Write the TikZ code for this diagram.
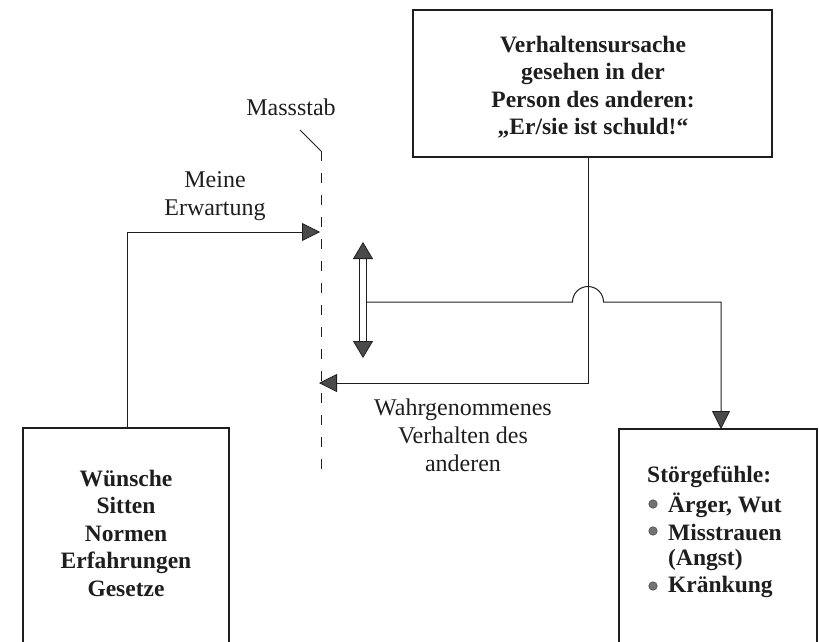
\documentclass[tikz,border=0pt]{standalone}
\usepackage{fontspec}
\setmainfont{Liberation Serif}
\usetikzlibrary{arrows.meta}
\definecolor{ink}{HTML}{1E1E1E}
\definecolor{headfill}{HTML}{4A4A4A}
\tikzset{
  box/.style={draw=ink, line width=1.1pt, inner sep=0pt},
  conn/.style={draw=ink, line width=1pt},
  tip/.style={-{Triangle[length=18pt,width=18pt,fill=headfill,line width=0.8pt]}},
  bt/.style={font=\fontsize{23.5}{27.5}\selectfont\bfseries, text=ink, align=center, inner sep=0pt},
  rt/.style={font=\fontsize{24}{28}\selectfont, text=ink, align=center, inner sep=0pt},
  bul/.style={circle, fill=black!55, draw=black!75, line width=0.5pt, minimum size=8.5pt, inner sep=0pt},
}
\begin{document}
\begin{tikzpicture}[x=1pt,y=-1pt]
\useasboundingbox (0,0) rectangle (819,642);
% boxes
\node[box, minimum width=359pt, minimum height=147pt] (topbox) at (592.5,83.5) {};
\node[box, minimum width=206pt, minimum height=222pt] (leftbox) at (126,539) {};
\node[box, minimum width=198pt, minimum height=221pt] (rightbox) at (718,539.5) {};
\coordinate (topbot) at (588,157);
\coordinate (lefttop) at (127,428);
\coordinate (righttop) at (721,429);
% texts
\node[bt] (ttxt) at (593,87) {Verhaltensursache\\gesehen in der\\Person des anderen:\\\char"201E Er/sie ist schuld!\char"201C};
\node[bt] (ltxt) at (126,533) {Wünsche\\Sitten\\Normen\\Erfahrungen\\Gesetze};
\node[bt, align=left, anchor=west] (r0) at (647,477) {Störgefühle:};
\node[bt, align=left, anchor=west] (r1) at (668,505) {Ärger, Wut};
\node[bt, align=left, anchor=west] (r2) at (668,532) {Misstrauen};
\node[bt, align=left, anchor=west] (r3) at (668,560) {(Angst)};
\node[bt, align=left, anchor=west] (r4) at (668,587) {Kränkung};
\node[bul] (b1) at (653,504) {};
\node[bul] (b2) at (653,531) {};
\node[bul] (b3) at (653,586) {};
\node[rt] (mass) at (291,107) {Massstab};
\node[rt] (erw) at (215,196) {Meine\\Erwartung};
\node[rt] (wahr) at (463,435) {Wahrgenommenes\\Verhalten des\\anderen};
% Massstab dashed line
\coordinate (ms0) at (300,130);
\coordinate (ms1) at (321,151);
\coordinate (ms2) at (321,478);
\draw[conn, line width=0.9pt] (ms0) -- (ms1);
\draw[conn, line width=0.9pt, dash pattern=on 10pt off 12pt] (ms1) -- (ms2);
\coordinate (erwtip) at (320,232);
\coordinate (wahrtip) at (319,383);
% expectation connector
\draw[conn, tip] (lefttop) |- (erwtip);
% perceived behaviour connector
\draw[conn, tip] (topbot) |- (wahrtip);
% double arrow
\coordinate (dtop) at (363,242);
\coordinate (dbot) at (363,358);
\coordinate (dmid) at (366.5,302);
\draw[draw=ink, line width=1pt, double=white, double distance=6pt,
  {Triangle[length=17pt,width=20pt,fill=headfill,line width=0.8pt]}-{Triangle[length=17pt,width=20pt,fill=headfill,line width=0.8pt]}]
  (dtop) -- (dbot);
% comparison to feelings, with hop
\coordinate (hop0) at (572.5,302);
\draw[conn, tip] (dmid) -- (hop0) arc[start angle=180, end angle=360, radius=15.5] -| (righttop);
\end{tikzpicture}
\end{document}
